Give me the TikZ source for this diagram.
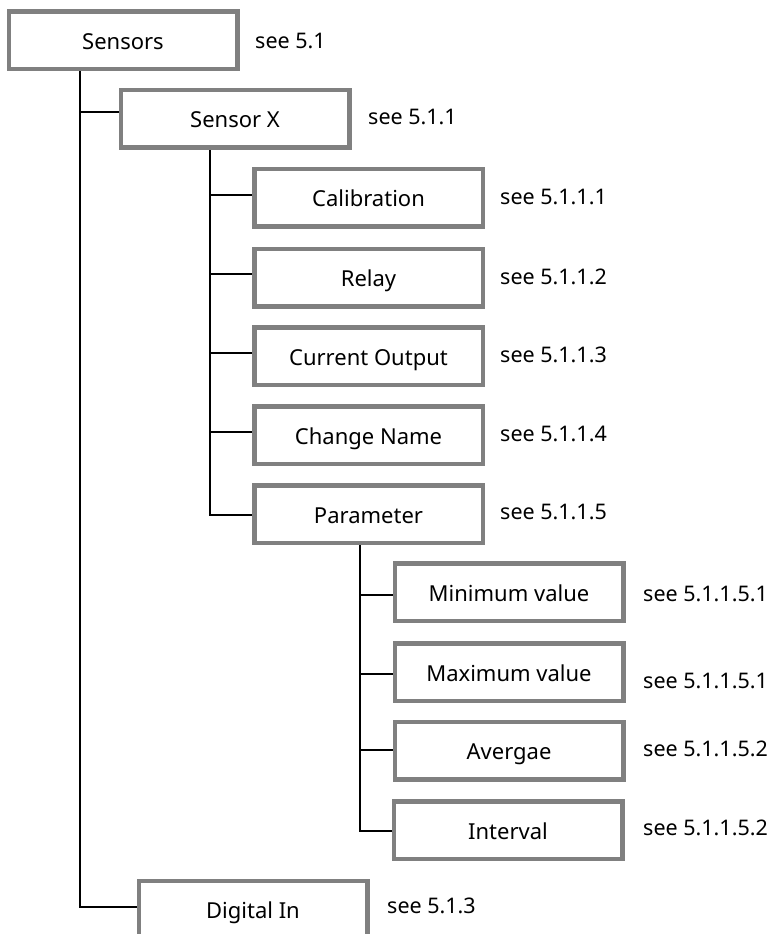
\documentclass[tikz,border=0pt]{standalone}
\usepackage{fontspec}
\setmainfont{Noto Sans}
\definecolor{boxgray}{RGB}{128,128,128}
\begin{document}
\begin{tikzpicture}[x=1pt,y=-1pt,
  menubox/.style={draw=boxgray,line width=3pt,fill=white,minimum width=227pt,minimum height=56pt,inner sep=0pt,
    text height=18.7pt,text depth=0pt,font=\fontsize{22}{27}\selectfont},
  seelabel/.style={anchor=west,inner sep=0pt,text height=15.5pt,text depth=0pt,font=\fontsize{21.5}{26}\selectfont},
  conn/.style={draw=black,line width=2pt}]
\clip (0,0) rectangle (768,934);
\fill[white] (0,0) rectangle (768,934);
% boxes
\node[menubox] (sensors) at (123,40.5) {Sensors};
\node[menubox] (sensorx) at (235,118.5) {Sensor X};
\node[menubox] (calib) at (368.5,197.5) {Calibration};
\node[menubox] (relay) at (368.5,277.5) {Relay};
\node[menubox] (current) at (368.5,356) {Current Output};
\node[menubox] (change) at (368.5,435) {Change Name};
\node[menubox] (param) at (368.5,514) {Parameter};
\node[menubox] (minv) at (509,592) {Minimum value};
\node[menubox] (maxv) at (509,672) {Maximum value};
\node[menubox] (avg) at (509,750.5) {Avergae};
\node[menubox] (intv) at (508,830) {Interval};
\node[menubox] (digin) at (253,909.5) {Digital In};
% labels
\node[seelabel] (l1) at (255,41) {see 5.1};
\node[seelabel] (l2) at (368,117) {see 5.1.1};
\node[seelabel] (l3) at (500,197) {see 5.1.1.1};
\node[seelabel] (l4) at (500,277) {see 5.1.1.2};
\node[seelabel] (l5) at (500,355) {see 5.1.1.3};
\node[seelabel] (l6) at (500,434) {see 5.1.1.4};
\node[seelabel] (l7) at (500,512) {see 5.1.1.5};
\node[seelabel] (l8) at (643,594) {see 5.1.1.5.1};
\node[seelabel] (l9) at (643,681) {see 5.1.1.5.1};
\node[seelabel] (l10) at (643,749) {see 5.1.1.5.2};
\node[seelabel] (l11) at (643,828) {see 5.1.1.5.2};
\node[seelabel] (l12) at (387,906) {see 5.1.3};
% junction coordinates
\coordinate (t1) at (80,70);
\coordinate (jx) at (80,112);
\coordinate (jd) at (80,907);
\coordinate (t2) at (210,147);
\coordinate (jc) at (210,195);
\coordinate (jr) at (210,274);
\coordinate (jo) at (210,353);
\coordinate (jn) at (210,432);
\coordinate (jp) at (210,515);
\coordinate (t3) at (360,543);
\coordinate (jmin) at (360,595);
\coordinate (jmax) at (360,674);
\coordinate (jav) at (360,750);
\coordinate (jin) at (360,831);
% connectors
\draw[conn] (sensors.south -| t1) |- (digin.west |- jd);
\draw[conn] (jx) -- (sensorx.west |- jx);
\draw[conn] (sensorx.south -| t2) |- (param.west |- jp);
\draw[conn] (jc) -- (calib.west |- jc);
\draw[conn] (jr) -- (relay.west |- jr);
\draw[conn] (jo) -- (current.west |- jo);
\draw[conn] (jn) -- (change.west |- jn);
\draw[conn] (param.south -| t3) |- (intv.west |- jin);
\draw[conn] (jmin) -- (minv.west |- jmin);
\draw[conn] (jmax) -- (maxv.west |- jmax);
\draw[conn] (jav) -- (avg.west |- jav);
% box borders over connector ends
\foreach \n in {sensors,sensorx,calib,relay,current,change,param,minv,maxv,avg,intv,digin}
  \draw[boxgray,line width=3pt] (\n.south west) rectangle (\n.north east);
\end{tikzpicture}
\end{document}
